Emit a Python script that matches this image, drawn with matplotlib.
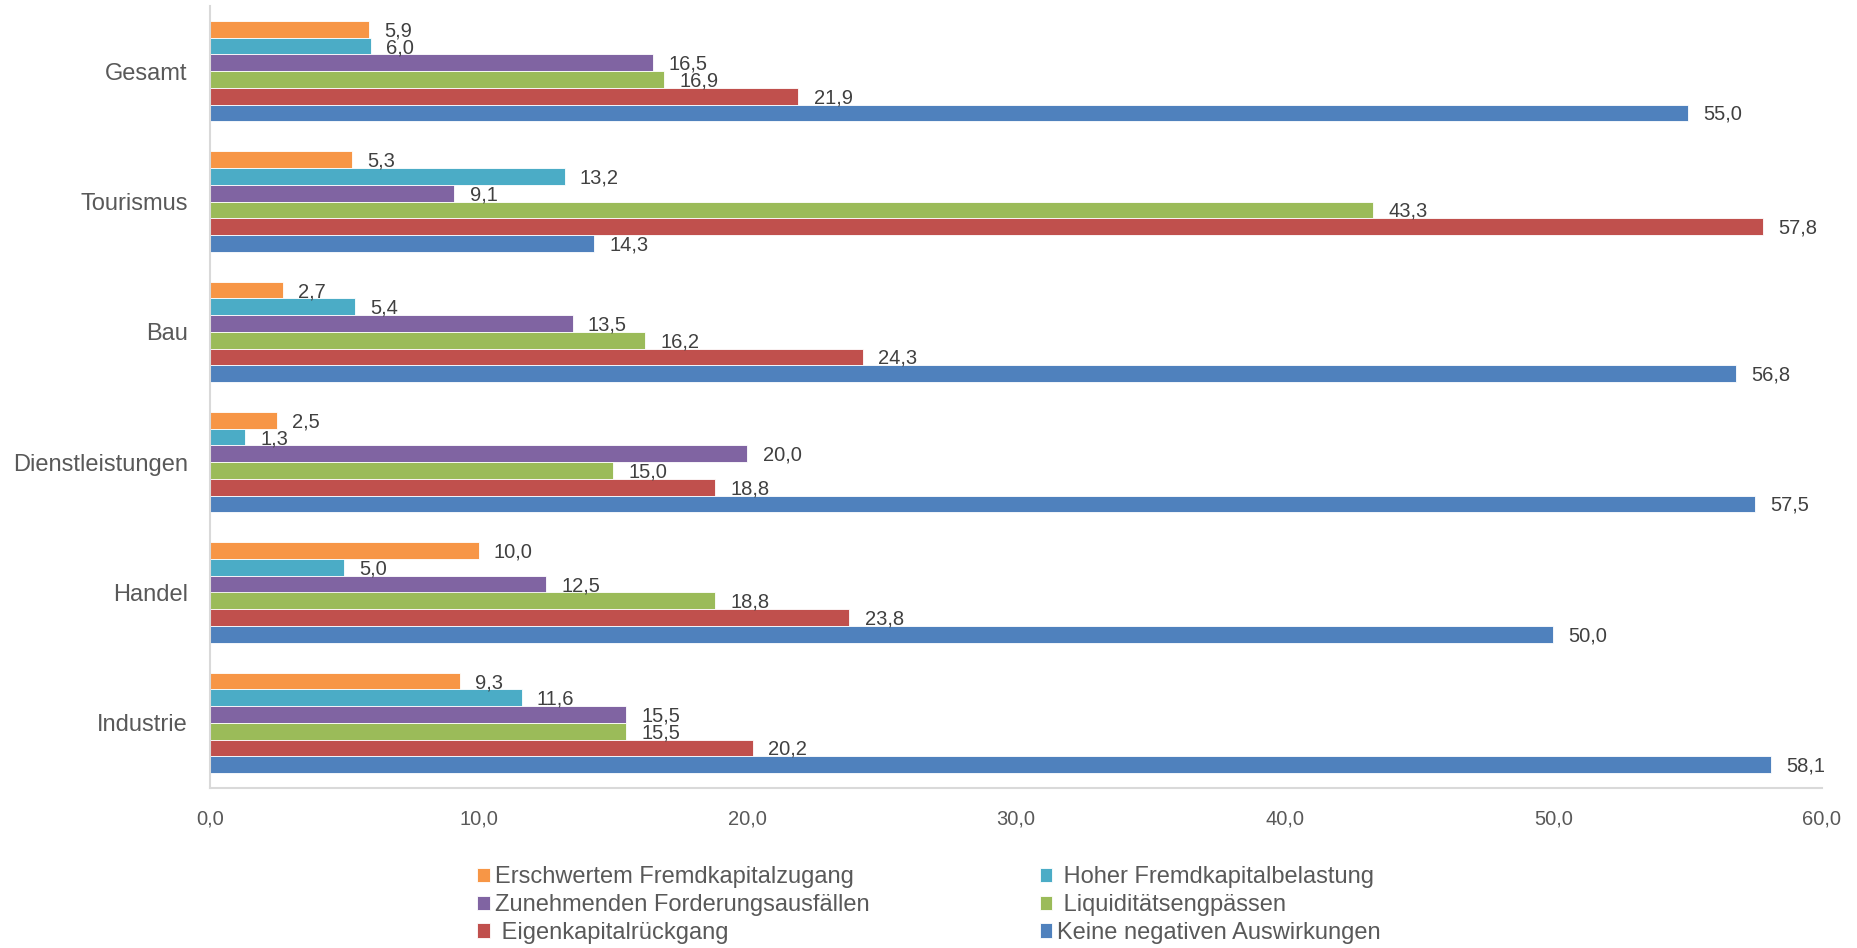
import matplotlib
matplotlib.use("Agg")
import matplotlib.pyplot as plt
import numpy as np

plt.rcParams['font.family'] = ['Liberation Sans', 'DejaVu Sans']

# Categories from top to bottom as shown
categories = ["Gesamt", "Tourismus", "Bau", "Dienstleistungen", "Handel", "Industrie"]

series_names = ["Erschwertem Fremdkapitalzugang", " Hoher Fremdkapitalbelastung",
                "Zunehmenden Forderungsausfällen", " Liquiditätsengpässen",
                " Eigenkapitalrückgang", "Keine negativen Auswirkungen"]

erschwertem = [5.9, 5.3, 2.7, 2.5, 10.0, 9.3]
hoher = [6.0, 13.2, 5.4, 1.3, 5.0, 11.6]
zunehmenden = [16.5, 9.1, 13.5, 20.0, 12.5, 15.5]
liquiditaet = [16.9, 43.3, 16.2, 15.0, 18.8, 15.5]
eigenkapital = [21.9, 57.8, 24.3, 18.8, 23.8, 20.2]
keine = [55.0, 14.3, 56.8, 57.5, 50.0, 58.1]

colors = ["#F79646", "#4BACC6", "#8064A2", "#9BBB59", "#C0504D", "#4F81BD"]

series = [erschwertem, hoher, zunehmenden, liquiditaet, eigenkapital, keine]

fig = plt.figure(figsize=(18.58, 9.48), dpi=100)
ax = fig.add_axes([210/1858, 1-788/948, (1822-210)/1858, (788-6)/948])

n = len(categories)
ypos = np.arange(n)[::-1]  # Gesamt at top
h = 0.128
handles = []
for j, (vals, col, name) in enumerate(zip(series, colors, series_names)):
    yy = ypos + (2.5 - j) * h
    bars = ax.barh(yy, vals, height=h, color=col, edgecolor='white', linewidth=0.6, label=name)
    handles.append(bars)
    for y, v in zip(yy, vals):
        ax.annotate(f"{v:.1f}".replace('.', ','), xy=(v, y), xytext=(11, -1),
                    textcoords='offset points', va='center', ha='left',
                    fontsize=14.5, color='#404040')

ax.set_xlim(0, 60)
ax.set_ylim(-0.5, n - 0.5)
ax.set_yticks(ypos)
ax.set_yticklabels(categories, fontsize=17, color='#595959')
ax.set_xticks(np.arange(0, 61, 10))
ax.set_xticklabels([f"{t:.1f}".replace('.', ',') for t in np.arange(0, 61, 10)],
                   fontsize=14.5, color='#595959')
ax.tick_params(axis='y', length=0, pad=16)
ax.tick_params(axis='x', length=0, pad=15.5)
for s in ['top', 'right']:
    ax.spines[s].set_visible(False)
for s in ['left', 'bottom']:
    ax.spines[s].set_color('#D9D9D9')
    ax.spines[s].set_linewidth(1.5)

order = [0, 2, 4, 1, 3, 5]
leg = fig.legend([handles[i] for i in order], [series_names[i] for i in order],
                 ncol=2, loc='center', bbox_to_anchor=(0.5, 1 - 905/948),
                 frameon=False, fontsize=17, handlelength=0.55, handleheight=0.55,
                 handletextpad=0.2, columnspacing=7.2, labelspacing=0.25,
                 borderpad=0.1)
for t in leg.get_texts():
    t.set_color('#595959')

fig.savefig("out.png", dpi=100)
